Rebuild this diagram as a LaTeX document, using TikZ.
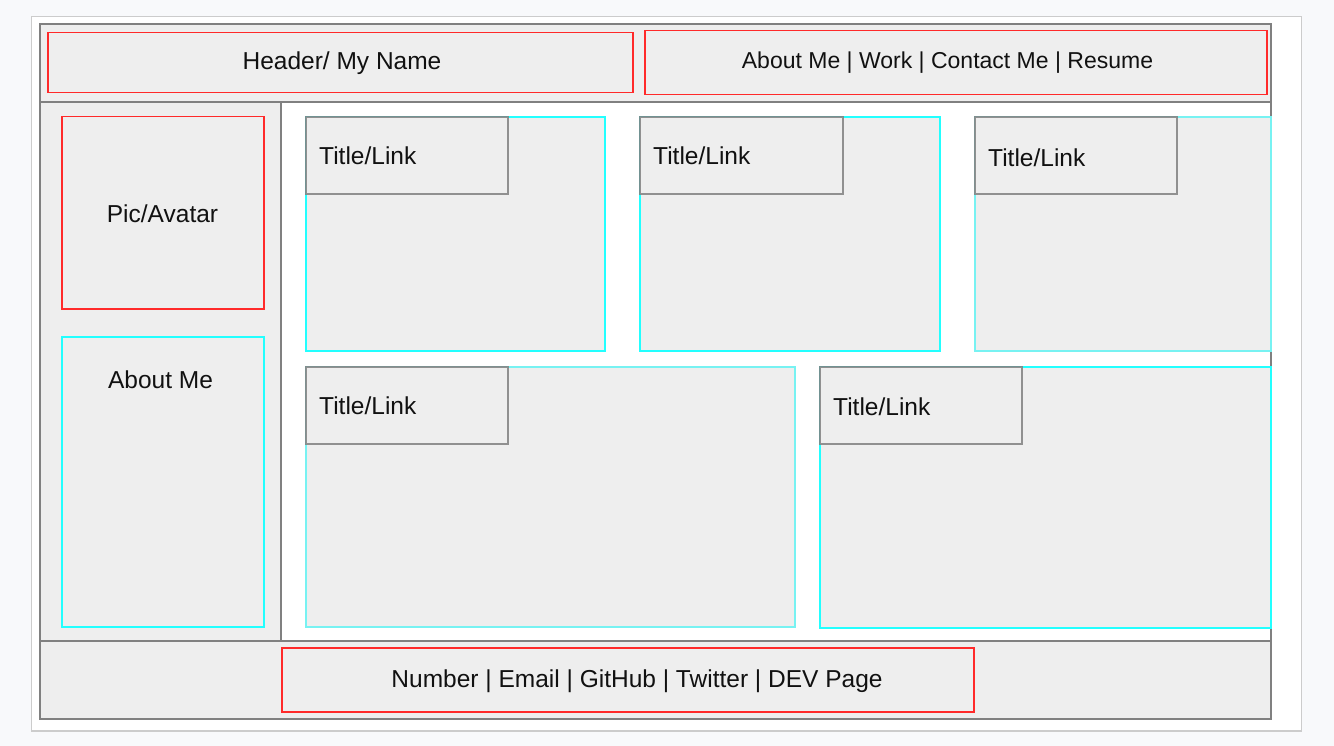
\documentclass[tikz,border=0pt]{standalone}
\usepackage{fontspec}
\setmainfont{Liberation Sans}
\definecolor{bgout}{HTML}{F8F9FB}
\definecolor{framec}{HTML}{CCCCCC}
\definecolor{panel}{HTML}{EEEEEE}
\definecolor{grayline}{HTML}{808080}
\definecolor{redline}{HTML}{FF2A2A}
\definecolor{cyanline}{HTML}{22FFFF}
\definecolor{cyanlight}{HTML}{77F2F2}
\definecolor{txt}{HTML}{111111}
\tikzset{
  redbox/.style={fill=panel, draw=redline, line width=1.5pt, anchor=north west, inner sep=0pt},
  cyanbox/.style={fill=panel, draw=cyanline, line width=1.6pt, anchor=north west, inner sep=0pt},
  cyanlbox/.style={fill=panel, draw=cyanlight, line width=1.6pt, anchor=north west, inner sep=0pt},
  titlebox/.style={fill=panel, draw=grayline, draw opacity=0.85, line width=1.6pt, anchor=north west, inner sep=0pt, minimum width=202pt, minimum height=77pt},
  lbl/.style={text=txt, inner sep=0pt, font=\fontsize{24.5}{29}\selectfont},
  navlbl/.style={text=txt, inner sep=0pt, font=\fontsize{23}{28}\selectfont},
}
\begin{document}
\begin{tikzpicture}[x=1pt,y=-1pt]
\useasboundingbox (0,0) rectangle (1334,746);
\fill[bgout] (0,0) rectangle (1334,746);
\filldraw[fill=white, draw=framec, line width=1.2pt] (31.5,16.5) rectangle (1301.5,731);
% outer layout
\fill[white] (40,24) rectangle (1271,719);
\fill[panel] (40,24) rectangle (1271,102);
\fill[panel] (40,102) rectangle (281,641);
\fill[panel] (40,641) rectangle (1271,719);
\draw[grayline, line width=1.8pt] (40,102) -- (1271,102);
\draw[grayline, line width=1.8pt] (40,641) -- (1271,641);
\draw[grayline, line width=1.8pt] (281,102) -- (281,641);
\draw[grayline, line width=1.8pt] (40,24) rectangle (1271,719);
% header
\node[redbox, minimum width=585pt, minimum height=60pt] (hdr) at (47,32) {};
\node[lbl] (hdrt) at (342,63.5) {Header/ My Name};
\node[redbox, minimum width=622pt, minimum height=64pt] (nav) at (644,30) {};
\node[navlbl] (navt) at (947.5,63) {About Me | Work | Contact Me | Resume};
% sidebar
\node[redbox, minimum width=202pt, minimum height=192pt] (pic) at (61,116) {};
\node[lbl] (pict) at (162.5,214) {Pic/Avatar};
\node[cyanbox, minimum width=202pt, minimum height=290pt] (about) at (61,336) {};
\node[lbl] (aboutt) at (160.5,380) {About Me};
% cards row 1
\node[cyanbox, minimum width=299pt, minimum height=234pt] (c1) at (305,116) {};
\node[titlebox] (t1) at (305,116) {};
\node[lbl, anchor=west] (t1t) at (319,156) {Title/Link};
\node[cyanbox, minimum width=300pt, minimum height=234pt] (c2) at (639,116) {};
\node[titlebox, minimum width=203pt] (t2) at (639,116) {};
\node[lbl, anchor=west] (t2t) at (653,156) {Title/Link};
\node[cyanlbox, minimum width=296pt, minimum height=234pt] (c3) at (974,116) {};
\node[titlebox] (t3) at (974,116) {};
\node[lbl, anchor=west] (t3t) at (988,158) {Title/Link};
% cards row 2
\node[cyanlbox, minimum width=489pt, minimum height=260pt] (c4) at (305,366) {};
\node[titlebox] (t4) at (305,366) {};
\node[lbl, anchor=west] (t4t) at (319,406) {Title/Link};
\node[cyanbox, minimum width=451pt, minimum height=261pt] (c5) at (819,366) {};
\node[titlebox] (t5) at (819,366) {};
\node[lbl, anchor=west] (t5t) at (833,407) {Title/Link};
% footer
\node[redbox, minimum width=692pt, minimum height=64pt] (foot) at (281,647) {};
\node[lbl] (foott) at (637,681.5) {Number | Email | GitHub | Twitter | DEV Page};
\end{tikzpicture}
\end{document}
